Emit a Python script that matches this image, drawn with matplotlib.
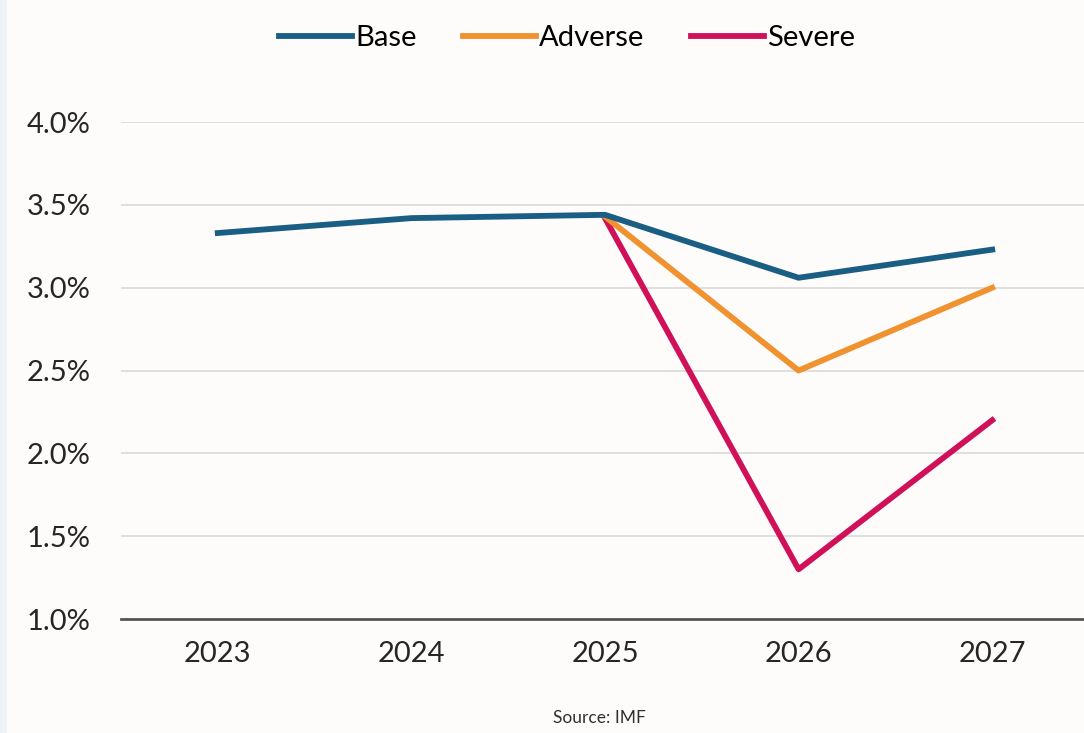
import numpy as np
import matplotlib.pyplot as plt
from matplotlib.patches import Rectangle

plt.rcParams['font.family'] = ['Lato', 'DejaVu Sans']

years = ['2023', '2024', '2025', '2026', '2027']
base = [3.33, 3.42, 3.44, 3.06, 3.23]
adverse = [None, None, 3.43, 2.50, 3.00]
severe = [None, None, 3.42, 1.30, 2.20]
yticks = [1.0, 1.5, 2.0, 2.5, 3.0, 3.5, 4.0]

fig = plt.figure(figsize=(10.84, 7.33), dpi=100)
fig.patch.set_facecolor('#fdfcfb')
# light strip on the left edge
fig.patches.append(Rectangle((0, 0), 0.0065, 1, transform=fig.transFigure,
                             facecolor='#eef3f9', edgecolor='none', zorder=0))

ax = fig.add_axes([0.1116, 0.1555, 0.893, 0.678])
ax.set_facecolor('none')

x = np.arange(len(years))
def pts(vals):
    idx = [i for i, v in enumerate(vals) if v is not None]
    return x[idx], [vals[i] for i in idx]

ax.plot(*pts(severe), color='#d0115a', lw=4.2, label='Severe', zorder=3)
ax.plot(*pts(adverse), color='#f0922f', lw=4.2, label='Adverse', zorder=4)
ax.plot(*pts(base), color='#1a5e83', lw=4.2, label='Base', zorder=5)

ax.set_xlim(-0.5, 4.5)
ax.set_ylim(1.0, 4.0)
ax.set_yticks(yticks)
ax.set_yticklabels([f'{v:.1f}%' for v in yticks])
ax.set_xticks(x)
ax.set_xticklabels(years)
ax.tick_params(axis='both', length=0, labelsize=21, colors='#262626')
ax.tick_params(axis='y', pad=22)
ax.tick_params(axis='x', pad=16)
ax.yaxis.grid(True, color='#dcdcdc', lw=1.3)
ax.set_axisbelow(True)
for s in ['top', 'right', 'left']:
    ax.spines[s].set_visible(False)
ax.spines['bottom'].set_color('#555555')
ax.spines['bottom'].set_linewidth(2)
ax.spines['bottom'].set_zorder(6)

h, l = ax.get_legend_handles_labels()
order = [2, 1, 0]
fig.legend([h[i] for i in order], [l[i] for i in order], loc='center',
           bbox_to_anchor=(0.523, 0.948), ncol=3, frameon=False, fontsize=21,
           handlelength=2.5, handletextpad=0.1, columnspacing=1.6)

fig.text(0.553, 0.02, 'Source: IMF', ha='center', va='center', fontsize=12.5,
         color='#303030')

fig.savefig('out.png', dpi=100, facecolor=fig.get_facecolor())
